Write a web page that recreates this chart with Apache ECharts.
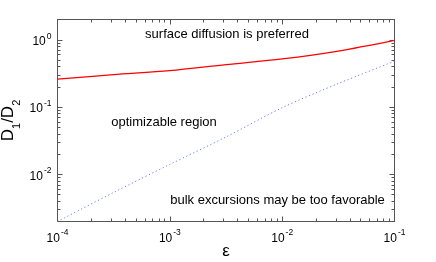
<!DOCTYPE html>
<html><head><meta charset="utf-8">
<script src="https://cdn.jsdelivr.net/npm/echarts@6/dist/echarts.min.js"></script>
<style>html,body{margin:0;padding:0;background:#fff}#c{width:436px;height:262px}</style>
</head><body><div id="c"></div>
<script>
// ---- data ----
const epsValues   = [1e-4, 3.162e-4, 1e-3, 3.162e-3, 1e-2, 3.162e-2, 1e-1];
const surfaceLine = [0.26, 0.303, 0.348, 0.428, 0.52, 0.68, 0.98];
const bulkLine    = [0.002, 0.0054, 0.0141, 0.036, 0.098, 0.224, 0.48];
const xMajorTicks = [1e-4, 1e-3, 1e-2, 1e-1];
const yMajorTicks = [1e-2, 1e-1, 1];
const xDecades    = [1e-4, 1e-3, 1e-2];
const yDecades    = [1e-3, 1e-2, 1e-1, 1];
const minorMult   = [2, 3, 4, 5, 6, 7, 8, 9];
const annotations = ['surface diffusion is preferred', 'optimizable region', 'bulk excursions may be too favorable'];
const xName = 'ε';

const X_MIN = 1e-4, X_MAX = 1e-1, Y_MIN = 0.002, Y_MAX = 2;
function minors(decs, lo, hi) {
  const out = [];
  decs.forEach(d => minorMult.forEach(m => { const v = +(m * d).toPrecision(6); if (v >= lo && v <= hi) out.push(v); }));
  return out;
}
const xMinor = minors(xDecades, X_MIN, X_MAX);
const yMinor = minors(yDecades, Y_MIN, Y_MAX);

const FONT = 'Liberation Sans, Arial, Helvetica, sans-serif';
const AX = '#555';
const expFmt = v => '{b|10}{s|' + Math.round(Math.log10(v)) + '}';
const rich = {
  b: {fontSize: 12, fontFamily: FONT, color: '#000', lineHeight: 16, verticalAlign: 'bottom'},
  s: {fontSize: 8.5, fontFamily: FONT, color: '#000', lineHeight: 16, verticalAlign: 'top', padding: [0, 0, 0, 1]}
};

function xAx(pos, ticks, len, showLine, label) {
  return {
    type: 'log', logBase: 10, min: X_MIN, max: X_MAX, position: pos, gridIndex: 0,
    axisLine: {show: showLine, lineStyle: {color: AX, width: 1}},
    axisTick: {show: true, inside: true, length: len, customValues: ticks, lineStyle: {color: AX, width: 1}},
    axisLabel: label ? {show: true, customValues: xMajorTicks, formatter: expFmt, rich: rich, margin: 7} : {show: false},
    splitLine: {show: false}, minorTick: {show: false}
  };
}
function yAx(pos, ticks, len, showLine, label) {
  return {
    type: 'log', logBase: 10, min: Y_MIN, max: Y_MAX, position: pos, gridIndex: 0,
    axisLine: {show: showLine, lineStyle: {color: AX, width: 1}},
    axisTick: {show: true, inside: true, length: len, customValues: ticks, lineStyle: {color: AX, width: 1}},
    axisLabel: label ? {show: true, customValues: yMajorTicks, formatter: expFmt, rich: rich, margin: 6} : {show: false},
    splitLine: {show: false}, minorTick: {show: false}
  };
}

const xAxes = [
  Object.assign(xAx('bottom', xMajorTicks, 5, true, true), {
    name: xName, nameLocation: 'middle', nameGap: 21, nameMoveOverlap: false,
    nameTextStyle: {fontSize: 17, fontFamily: FONT, color: '#000'}
  }),
  xAx('bottom', xMinor, 3, false, false),
  xAx('top', xMajorTicks, 5, true, false),
  xAx('top', xMinor, 3, false, false)
];
const yAxes = [
  Object.assign(yAx('left', yMajorTicks, 5, true, true), {
    name: '{a|D}{u|1}{a|/D}{u|2}', nameLocation: 'middle', nameGap: 38, nameMoveOverlap: false,
    nameTextStyle: {
      rich: {
        a: {fontSize: 17, fontFamily: FONT, color: '#000', lineHeight: 20, verticalAlign: 'top'},
        u: {fontSize: 11, fontFamily: FONT, color: '#000', lineHeight: 20, verticalAlign: 'bottom', padding: [0, 0, -3, 0]}
      }
    }
  }),
  yAx('left', yMinor, 3, false, false),
  yAx('right', yMajorTicks, 5, true, false),
  yAx('right', yMinor, 3, false, false)
];

const chart = echarts.init(document.getElementById('c'), null, {renderer: 'canvas'});
const txt = (t, x, y) => ({type: 'text', x: x, y: y, style: {text: t, fontSize: 13, fontFamily: FONT, fill: '#000', align: 'center', verticalAlign: 'middle'}, z: 10});
chart.setOption({
  animation: false,
  backgroundColor: '#fff',
  grid: {left: 57.5, right: 41.5, top: 19.5, bottom: 40.5, containLabel: false, outerBoundsMode: 'none'},
  xAxis: xAxes,
  yAxis: yAxes,
  graphic: [
    txt(annotations[0], 227, 34),
    txt(annotations[1], 164, 122),
    txt(annotations[2], 277.5, 200.5)
  ],
  series: [
    {type: 'line', xAxisIndex: 0, yAxisIndex: 0, data: epsValues.map((x, i) => [x, surfaceLine[i]]),
     smooth: 0.3, showSymbol: false, symbol: 'none', lineStyle: {color: '#ff0000', width: 1.2}, clip: true},
    {type: 'line', xAxisIndex: 0, yAxisIndex: 0, data: epsValues.map((x, i) => [x, bulkLine[i]]),
     smooth: 0.3, showSymbol: false, symbol: 'none', lineStyle: {color: '#6f7cff', width: 1, type: [1.2, 2.6]}, clip: true}
  ]
});
</script></body></html>
